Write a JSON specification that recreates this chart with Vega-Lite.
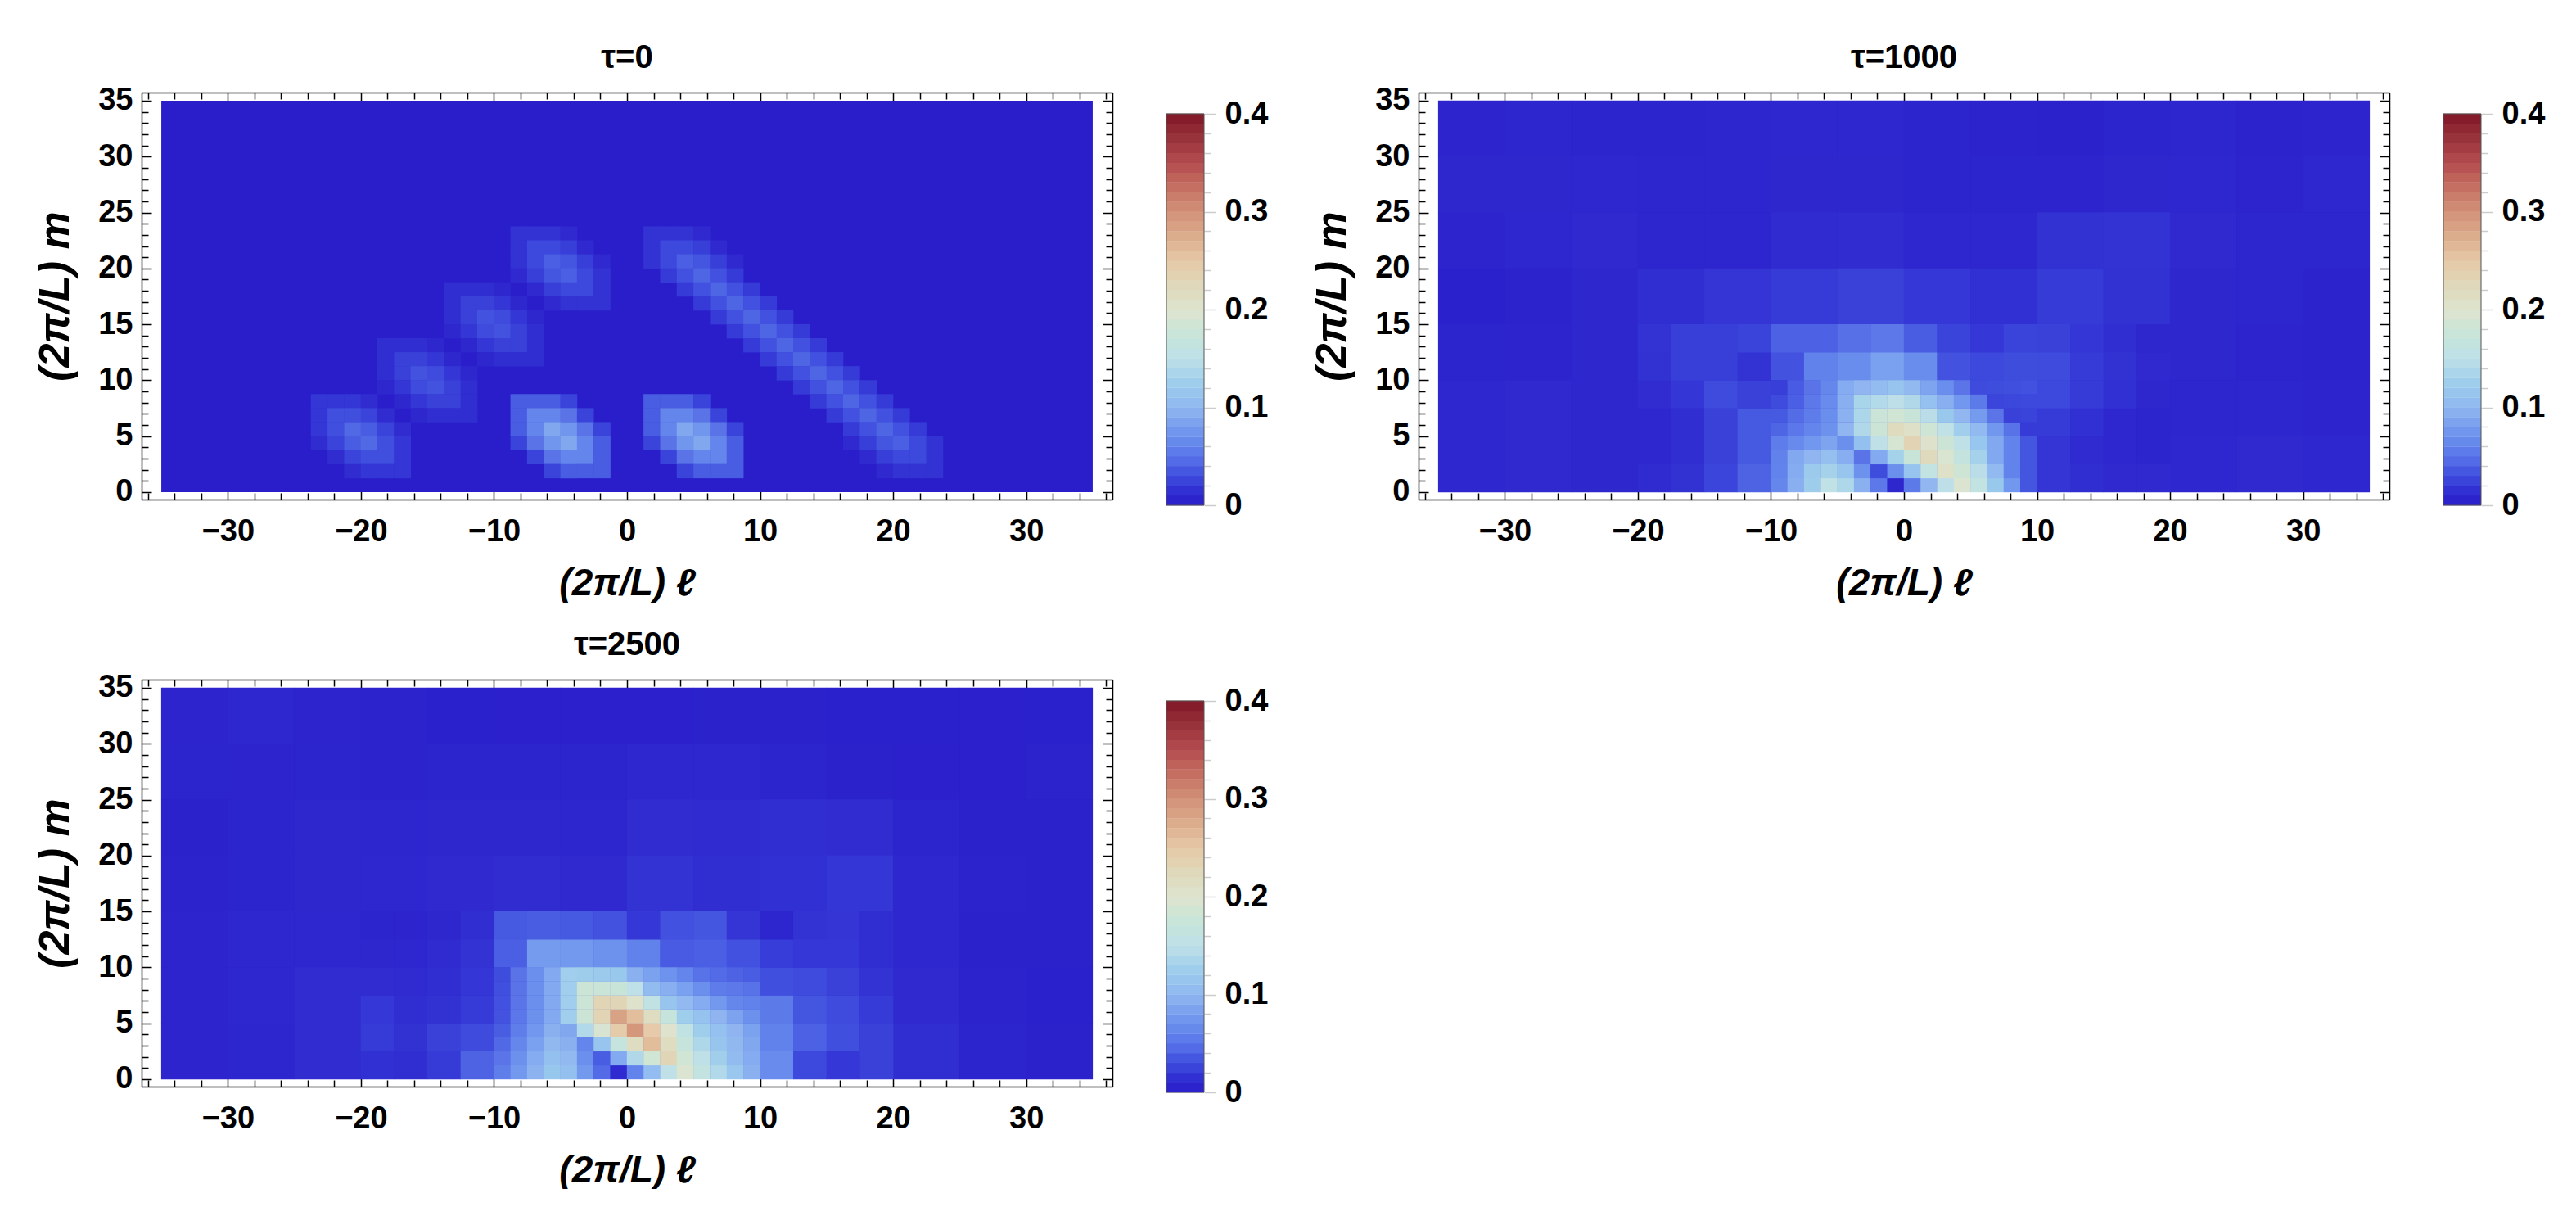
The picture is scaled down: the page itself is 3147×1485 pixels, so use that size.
{"$schema":"https://vega.github.io/schema/vega-lite/v6.json","padding":{"left":41,"top":50,"right":0,"bottom":0},"background":"white","bounds":"flush","columns":4,"spacing":{"column":66,"row":213},"config":{"view":{"stroke":null},"legend":{"disable":true},"axis":{"grid":false,"domainColor":"#000","domainWidth":1.5,"tickColor":"#000","tickWidth":1.5,"labelFont":"Liberation Sans","labelFontWeight":"bold","labelFontSize":38,"labelColor":"#000","titleFont":"Liberation Sans","titleFontWeight":"bold","titleFontStyle":"italic","titleColor":"#000","zindex":1,"labelOverlap":false,"labelFlush":false},"title":{"font":"Liberation Sans","fontWeight":"bold","fontSize":40,"color":"#000","offset":13}},
"datasets":{
"o":[{"l":0,"m":0}],
"base":[{"l":-35,"l2":35,"m":0,"m2":35,"v":0}],
"bar":[{"v":0.005},{"v":0.015},{"v":0.025},{"v":0.035},{"v":0.045},{"v":0.055},{"v":0.065},{"v":0.075},{"v":0.085},{"v":0.095},{"v":0.105},{"v":0.115},{"v":0.125},{"v":0.135},{"v":0.145},{"v":0.155},{"v":0.165},{"v":0.175},{"v":0.185},{"v":0.195},{"v":0.205},{"v":0.215},{"v":0.225},{"v":0.235},{"v":0.245},{"v":0.255},{"v":0.265},{"v":0.275},{"v":0.285},{"v":0.295},{"v":0.305},{"v":0.315},{"v":0.325},{"v":0.335},{"v":0.345},{"v":0.355},{"v":0.365},{"v":0.375},{"v":0.385},{"v":0.395}],
"box":[{"a":0,"b":0.4}],
"p1f":[
{"l":-23.125,"m":8.125,"v":0.019},{"l":-21.875,"m":8.125,"v":0.019},{"l":-20.625,"m":8.125,"v":0.019},{"l":-19.375,"m":8.125,"v":0.013},
{"l":-23.125,"m":6.875,"v":0.019},{"l":-21.875,"m":6.875,"v":0.031},{"l":-20.625,"m":6.875,"v":0.031},{"l":-19.375,"m":6.875,"v":0.025},{"l":-18.125,"m":6.875,"v":0.013},
{"l":-23.125,"m":5.625,"v":0.019},{"l":-21.875,"m":5.625,"v":0.031},{"l":-20.625,"m":5.625,"v":0.044},{"l":-19.375,"m":5.625,"v":0.038},{"l":-18.125,"m":5.625,"v":0.025},{"l":-16.875,"m":5.625,"v":0.013},
{"l":-23.125,"m":4.375,"v":0.013},{"l":-21.875,"m":4.375,"v":0.025},{"l":-20.625,"m":4.375,"v":0.038},{"l":-19.375,"m":4.375,"v":0.044},{"l":-18.125,"m":4.375,"v":0.031},{"l":-16.875,"m":4.375,"v":0.019},
{"l":-21.875,"m":3.125,"v":0.013},{"l":-20.625,"m":3.125,"v":0.025},{"l":-19.375,"m":3.125,"v":0.031},{"l":-18.125,"m":3.125,"v":0.031},{"l":-16.875,"m":3.125,"v":0.019},
{"l":-20.625,"m":1.875,"v":0.013},{"l":-19.375,"m":1.875,"v":0.019},{"l":-18.125,"m":1.875,"v":0.019},{"l":-16.875,"m":1.875,"v":0.019},
{"l":-18.125,"m":13.125,"v":0.014},{"l":-16.875,"m":13.125,"v":0.014},{"l":-15.625,"m":13.125,"v":0.014},{"l":-14.375,"m":13.125,"v":0.01},
{"l":-18.125,"m":11.875,"v":0.014},{"l":-16.875,"m":11.875,"v":0.024},{"l":-15.625,"m":11.875,"v":0.024},{"l":-14.375,"m":11.875,"v":0.019},{"l":-13.125,"m":11.875,"v":0.01},
{"l":-18.125,"m":10.625,"v":0.014},{"l":-16.875,"m":10.625,"v":0.024},{"l":-15.625,"m":10.625,"v":0.033},{"l":-14.375,"m":10.625,"v":0.029},{"l":-13.125,"m":10.625,"v":0.019},{"l":-11.875,"m":10.625,"v":0.01},
{"l":-18.125,"m":9.375,"v":0.01},{"l":-16.875,"m":9.375,"v":0.019},{"l":-15.625,"m":9.375,"v":0.029},{"l":-14.375,"m":9.375,"v":0.033},{"l":-13.125,"m":9.375,"v":0.024},{"l":-11.875,"m":9.375,"v":0.014},
{"l":-16.875,"m":8.125,"v":0.01},{"l":-15.625,"m":8.125,"v":0.019},{"l":-14.375,"m":8.125,"v":0.024},{"l":-13.125,"m":8.125,"v":0.024},{"l":-11.875,"m":8.125,"v":0.014},
{"l":-15.625,"m":6.875,"v":0.01},{"l":-14.375,"m":6.875,"v":0.014},{"l":-13.125,"m":6.875,"v":0.014},{"l":-11.875,"m":6.875,"v":0.014},
{"l":-13.125,"m":18.125,"v":0.014},{"l":-11.875,"m":18.125,"v":0.014},{"l":-10.625,"m":18.125,"v":0.014},{"l":-9.375,"m":18.125,"v":0.01},
{"l":-13.125,"m":16.875,"v":0.014},{"l":-11.875,"m":16.875,"v":0.024},{"l":-10.625,"m":16.875,"v":0.024},{"l":-9.375,"m":16.875,"v":0.019},{"l":-8.125,"m":16.875,"v":0.01},
{"l":-13.125,"m":15.625,"v":0.014},{"l":-11.875,"m":15.625,"v":0.024},{"l":-10.625,"m":15.625,"v":0.033},{"l":-9.375,"m":15.625,"v":0.029},{"l":-8.125,"m":15.625,"v":0.019},{"l":-6.875,"m":15.625,"v":0.01},
{"l":-13.125,"m":14.375,"v":0.01},{"l":-11.875,"m":14.375,"v":0.019},{"l":-10.625,"m":14.375,"v":0.029},{"l":-9.375,"m":14.375,"v":0.033},{"l":-8.125,"m":14.375,"v":0.024},{"l":-6.875,"m":14.375,"v":0.014},
{"l":-11.875,"m":13.125,"v":0.01},{"l":-10.625,"m":13.125,"v":0.019},{"l":-9.375,"m":13.125,"v":0.024},{"l":-8.125,"m":13.125,"v":0.024},{"l":-6.875,"m":13.125,"v":0.014},
{"l":-10.625,"m":11.875,"v":0.01},{"l":-9.375,"m":11.875,"v":0.014},{"l":-8.125,"m":11.875,"v":0.014},{"l":-6.875,"m":11.875,"v":0.014},
{"l":-8.125,"m":23.125,"v":0.017},{"l":-6.875,"m":23.125,"v":0.017},{"l":-5.625,"m":23.125,"v":0.017},{"l":-4.375,"m":23.125,"v":0.011},
{"l":-8.125,"m":21.875,"v":0.017},{"l":-6.875,"m":21.875,"v":0.028},{"l":-5.625,"m":21.875,"v":0.028},{"l":-4.375,"m":21.875,"v":0.023},{"l":-3.125,"m":21.875,"v":0.011},
{"l":-8.125,"m":20.625,"v":0.017},{"l":-6.875,"m":20.625,"v":0.028},{"l":-5.625,"m":20.625,"v":0.039},{"l":-4.375,"m":20.625,"v":0.034},{"l":-3.125,"m":20.625,"v":0.023},{"l":-1.875,"m":20.625,"v":0.011},
{"l":-8.125,"m":19.375,"v":0.011},{"l":-6.875,"m":19.375,"v":0.023},{"l":-5.625,"m":19.375,"v":0.034},{"l":-4.375,"m":19.375,"v":0.039},{"l":-3.125,"m":19.375,"v":0.028},{"l":-1.875,"m":19.375,"v":0.017},
{"l":-6.875,"m":18.125,"v":0.011},{"l":-5.625,"m":18.125,"v":0.023},{"l":-4.375,"m":18.125,"v":0.028},{"l":-3.125,"m":18.125,"v":0.028},{"l":-1.875,"m":18.125,"v":0.017},
{"l":-5.625,"m":16.875,"v":0.011},{"l":-4.375,"m":16.875,"v":0.017},{"l":-3.125,"m":16.875,"v":0.017},{"l":-1.875,"m":16.875,"v":0.017},
{"l":-8.125,"m":8.125,"v":0.038},{"l":-6.875,"m":8.125,"v":0.038},{"l":-5.625,"m":8.125,"v":0.038},{"l":-4.375,"m":8.125,"v":0.025},
{"l":-8.125,"m":6.875,"v":0.038},{"l":-6.875,"m":6.875,"v":0.063},{"l":-5.625,"m":6.875,"v":0.063},{"l":-4.375,"m":6.875,"v":0.05},{"l":-3.125,"m":6.875,"v":0.025},
{"l":-8.125,"m":5.625,"v":0.038},{"l":-6.875,"m":5.625,"v":0.063},{"l":-5.625,"m":5.625,"v":0.088},{"l":-4.375,"m":5.625,"v":0.075},{"l":-3.125,"m":5.625,"v":0.05},{"l":-1.875,"m":5.625,"v":0.025},
{"l":-8.125,"m":4.375,"v":0.025},{"l":-6.875,"m":4.375,"v":0.05},{"l":-5.625,"m":4.375,"v":0.075},{"l":-4.375,"m":4.375,"v":0.088},{"l":-3.125,"m":4.375,"v":0.063},{"l":-1.875,"m":4.375,"v":0.038},
{"l":-6.875,"m":3.125,"v":0.025},{"l":-5.625,"m":3.125,"v":0.05},{"l":-4.375,"m":3.125,"v":0.063},{"l":-3.125,"m":3.125,"v":0.063},{"l":-1.875,"m":3.125,"v":0.038},
{"l":-5.625,"m":1.875,"v":0.025},{"l":-4.375,"m":1.875,"v":0.038},{"l":-3.125,"m":1.875,"v":0.038},{"l":-1.875,"m":1.875,"v":0.038},
{"l":1.875,"m":8.125,"v":0.038},{"l":3.125,"m":8.125,"v":0.038},{"l":4.375,"m":8.125,"v":0.038},{"l":5.625,"m":8.125,"v":0.025},
{"l":1.875,"m":6.875,"v":0.038},{"l":3.125,"m":6.875,"v":0.063},{"l":4.375,"m":6.875,"v":0.063},{"l":5.625,"m":6.875,"v":0.05},{"l":6.875,"m":6.875,"v":0.025},
{"l":1.875,"m":5.625,"v":0.038},{"l":3.125,"m":5.625,"v":0.063},{"l":4.375,"m":5.625,"v":0.088},{"l":5.625,"m":5.625,"v":0.075},{"l":6.875,"m":5.625,"v":0.05},{"l":8.125,"m":5.625,"v":0.025},
{"l":1.875,"m":4.375,"v":0.025},{"l":3.125,"m":4.375,"v":0.05},{"l":4.375,"m":4.375,"v":0.075},{"l":5.625,"m":4.375,"v":0.088},{"l":6.875,"m":4.375,"v":0.063},{"l":8.125,"m":4.375,"v":0.038},
{"l":3.125,"m":3.125,"v":0.025},{"l":4.375,"m":3.125,"v":0.05},{"l":5.625,"m":3.125,"v":0.063},{"l":6.875,"m":3.125,"v":0.063},{"l":8.125,"m":3.125,"v":0.038},
{"l":4.375,"m":1.875,"v":0.025},{"l":5.625,"m":1.875,"v":0.038},{"l":6.875,"m":1.875,"v":0.038},{"l":8.125,"m":1.875,"v":0.038},
{"l":1.875,"m":23.125,"v":0.017},{"l":3.125,"m":23.125,"v":0.017},{"l":4.375,"m":23.125,"v":0.017},{"l":5.625,"m":23.125,"v":0.011},
{"l":1.875,"m":21.875,"v":0.017},{"l":3.125,"m":21.875,"v":0.028},{"l":4.375,"m":21.875,"v":0.028},{"l":5.625,"m":21.875,"v":0.023},{"l":6.875,"m":21.875,"v":0.011},
{"l":1.875,"m":20.625,"v":0.017},{"l":3.125,"m":20.625,"v":0.028},{"l":4.375,"m":20.625,"v":0.039},{"l":5.625,"m":20.625,"v":0.034},{"l":6.875,"m":20.625,"v":0.023},{"l":8.125,"m":20.625,"v":0.011},
{"l":3.125,"m":19.375,"v":0.021},{"l":4.375,"m":19.375,"v":0.032},{"l":5.625,"m":19.375,"v":0.042},{"l":6.875,"m":19.375,"v":0.032},{"l":8.125,"m":19.375,"v":0.021},
{"l":4.375,"m":18.125,"v":0.021},{"l":5.625,"m":18.125,"v":0.032},{"l":6.875,"m":18.125,"v":0.042},{"l":8.125,"m":18.125,"v":0.032},{"l":9.375,"m":18.125,"v":0.021},
{"l":5.625,"m":16.875,"v":0.021},{"l":6.875,"m":16.875,"v":0.032},{"l":8.125,"m":16.875,"v":0.042},{"l":9.375,"m":16.875,"v":0.032},{"l":10.625,"m":16.875,"v":0.021},
{"l":6.875,"m":15.625,"v":0.021},{"l":8.125,"m":15.625,"v":0.032},{"l":9.375,"m":15.625,"v":0.042},{"l":10.625,"m":15.625,"v":0.032},{"l":11.875,"m":15.625,"v":0.021},
{"l":8.125,"m":14.375,"v":0.021},{"l":9.375,"m":14.375,"v":0.032},{"l":10.625,"m":14.375,"v":0.042},{"l":11.875,"m":14.375,"v":0.032},{"l":13.125,"m":14.375,"v":0.021},
{"l":9.375,"m":13.125,"v":0.021},{"l":10.625,"m":13.125,"v":0.032},{"l":11.875,"m":13.125,"v":0.042},{"l":13.125,"m":13.125,"v":0.032},{"l":14.375,"m":13.125,"v":0.021},
{"l":10.625,"m":11.875,"v":0.021},{"l":11.875,"m":11.875,"v":0.032},{"l":13.125,"m":11.875,"v":0.042},{"l":14.375,"m":11.875,"v":0.032},{"l":15.625,"m":11.875,"v":0.021},
{"l":11.875,"m":10.625,"v":0.021},{"l":13.125,"m":10.625,"v":0.032},{"l":14.375,"m":10.625,"v":0.042},{"l":15.625,"m":10.625,"v":0.032},{"l":16.875,"m":10.625,"v":0.021},
{"l":13.125,"m":9.375,"v":0.021},{"l":14.375,"m":9.375,"v":0.032},{"l":15.625,"m":9.375,"v":0.042},{"l":16.875,"m":9.375,"v":0.032},{"l":18.125,"m":9.375,"v":0.021},
{"l":14.375,"m":8.125,"v":0.021},{"l":15.625,"m":8.125,"v":0.032},{"l":16.875,"m":8.125,"v":0.042},{"l":18.125,"m":8.125,"v":0.032},{"l":19.375,"m":8.125,"v":0.021},
{"l":15.625,"m":6.875,"v":0.021},{"l":16.875,"m":6.875,"v":0.032},{"l":18.125,"m":6.875,"v":0.042},{"l":19.375,"m":6.875,"v":0.032},{"l":20.625,"m":6.875,"v":0.021},
{"l":16.875,"m":5.625,"v":0.021},{"l":18.125,"m":5.625,"v":0.032},{"l":19.375,"m":5.625,"v":0.042},{"l":20.625,"m":5.625,"v":0.032},{"l":21.875,"m":5.625,"v":0.021},
{"l":16.875,"m":4.375,"v":0.011},{"l":18.125,"m":4.375,"v":0.023},{"l":19.375,"m":4.375,"v":0.034},{"l":20.625,"m":4.375,"v":0.039},{"l":21.875,"m":4.375,"v":0.028},{"l":23.125,"m":4.375,"v":0.017},
{"l":18.125,"m":3.125,"v":0.011},{"l":19.375,"m":3.125,"v":0.023},{"l":20.625,"m":3.125,"v":0.028},{"l":21.875,"m":3.125,"v":0.028},{"l":23.125,"m":3.125,"v":0.017},
{"l":19.375,"m":1.875,"v":0.011},{"l":20.625,"m":1.875,"v":0.017},{"l":21.875,"m":1.875,"v":0.017},{"l":23.125,"m":1.875,"v":0.017}
],
"p2c":[
{"l":-32.5,"m":32.5,"v":0.007},{"l":-27.5,"m":32.5,"v":0.008},{"l":-22.5,"m":32.5,"v":0.006},{"l":-17.5,"m":32.5,"v":0.006},{"l":-12.5,"m":32.5,"v":0.008},{"l":-7.5,"m":32.5,"v":0.009},{"l":-2.5,"m":32.5,"v":0.009},{"l":2.5,"m":32.5,"v":0.006},{"l":7.5,"m":32.5,"v":0.005},{"l":12.5,"m":32.5,"v":0.004},{"l":17.5,"m":32.5,"v":0.006},{"l":22.5,"m":32.5,"v":0.008},{"l":27.5,"m":32.5,"v":0.005},{"l":32.5,"m":32.5,"v":0.007},
{"l":-32.5,"m":27.5,"v":0.01},{"l":-27.5,"m":27.5,"v":0.01},{"l":-22.5,"m":27.5,"v":0.009},{"l":-17.5,"m":27.5,"v":0.008},{"l":-12.5,"m":27.5,"v":0.008},{"l":-7.5,"m":27.5,"v":0.01},{"l":-2.5,"m":27.5,"v":0.01},{"l":2.5,"m":27.5,"v":0.006},{"l":7.5,"m":27.5,"v":0.006},{"l":12.5,"m":27.5,"v":0.007},{"l":17.5,"m":27.5,"v":0.01},{"l":22.5,"m":27.5,"v":0.009},{"l":27.5,"m":27.5,"v":0.007},{"l":32.5,"m":27.5,"v":0.009},
{"l":-32.5,"m":22.5,"v":0.007},{"l":-27.5,"m":22.5,"v":0.009},{"l":-22.5,"m":22.5,"v":0.011},{"l":-17.5,"m":22.5,"v":0.008},{"l":-12.5,"m":22.5,"v":0.008},{"l":-7.5,"m":22.5,"v":0.012},{"l":-2.5,"m":22.5,"v":0.013},{"l":2.5,"m":22.5,"v":0.009},{"l":7.5,"m":22.5,"v":0.009},{"l":12.5,"m":22.5,"v":0.016},{"l":17.5,"m":22.5,"v":0.017},{"l":22.5,"m":22.5,"v":0.011},{"l":27.5,"m":22.5,"v":0.008},{"l":32.5,"m":22.5,"v":0.008},
{"l":-32.5,"m":17.5,"v":0.003},{"l":-27.5,"m":17.5,"v":0.005},{"l":-22.5,"m":17.5,"v":0.01},{"l":-17.5,"m":17.5,"v":0.014},{"l":-12.5,"m":17.5,"v":0.018},{"l":-7.5,"m":17.5,"v":0.021},{"l":-2.5,"m":17.5,"v":0.024},{"l":2.5,"m":17.5,"v":0.02},{"l":7.5,"m":17.5,"v":0.015},{"l":12.5,"m":17.5,"v":0.021},{"l":17.5,"m":17.5,"v":0.016},{"l":22.5,"m":17.5,"v":0.01},{"l":27.5,"m":17.5,"v":0.008},{"l":32.5,"m":17.5,"v":0.005},
{"l":-32.5,"m":12.5,"v":0.006},{"l":-27.5,"m":12.5,"v":0.007},{"l":-22.5,"m":12.5,"v":0.01},{"l":22.5,"m":12.5,"v":0.01},{"l":27.5,"m":12.5,"v":0.007},{"l":32.5,"m":12.5,"v":0.005},
{"l":-32.5,"m":7.5,"v":0.009},{"l":-27.5,"m":7.5,"v":0.011},{"l":-22.5,"m":7.5,"v":0.01},{"l":22.5,"m":7.5,"v":0.008},{"l":27.5,"m":7.5,"v":0.008},{"l":32.5,"m":7.5,"v":0.007},
{"l":-32.5,"m":2.5,"v":0.009},{"l":-27.5,"m":2.5,"v":0.011},{"l":-22.5,"m":2.5,"v":0.01},{"l":22.5,"m":2.5,"v":0.009},{"l":27.5,"m":2.5,"v":0.011},{"l":32.5,"m":2.5,"v":0.009}
],
"p2m":[
{"l":-18.75,"m":1.25,"v":0.012},{"l":-16.25,"m":1.25,"v":0.016},{"l":-18.75,"m":3.75,"v":0.009},{"l":-16.25,"m":3.75,"v":0.014},
{"l":-13.75,"m":1.25,"v":0.026},{"l":-11.25,"m":1.25,"v":0.041},{"l":-13.75,"m":3.75,"v":0.024},{"l":-11.25,"m":3.75,"v":0.036},
{"l":-18.75,"m":6.25,"v":0.009},{"l":-16.25,"m":6.25,"v":0.014},{"l":-18.75,"m":8.75,"v":0.013},{"l":-16.25,"m":8.75,"v":0.019},
{"l":-13.75,"m":6.25,"v":0.024},{"l":-11.25,"m":6.25,"v":0.036},{"l":-13.75,"m":8.75,"v":0.029},{"l":-11.25,"m":8.75,"v":0.024},
{"l":-18.75,"m":11.25,"v":0.016},{"l":-16.25,"m":11.25,"v":0.023},{"l":-18.75,"m":13.75,"v":0.017},{"l":-16.25,"m":13.75,"v":0.023},
{"l":-13.75,"m":11.25,"v":0.023},{"l":-11.25,"m":11.25,"v":0.017},{"l":-13.75,"m":13.75,"v":0.023},{"l":-11.25,"m":13.75,"v":0.025},
{"l":11.25,"m":1.25,"v":0.018},{"l":13.75,"m":1.25,"v":0.014},{"l":11.25,"m":3.75,"v":0.018},{"l":13.75,"m":3.75,"v":0.012},
{"l":16.25,"m":1.25,"v":0.011},{"l":18.75,"m":1.25,"v":0.011},{"l":16.25,"m":3.75,"v":0.009},{"l":18.75,"m":3.75,"v":0.006},
{"l":11.25,"m":6.25,"v":0.021},{"l":13.75,"m":6.25,"v":0.015},{"l":11.25,"m":8.75,"v":0.028},{"l":13.75,"m":8.75,"v":0.021},
{"l":16.25,"m":6.25,"v":0.009},{"l":18.75,"m":6.25,"v":0.006},{"l":16.25,"m":8.75,"v":0.015},{"l":18.75,"m":8.75,"v":0.01},
{"l":11.25,"m":11.25,"v":0.029},{"l":13.75,"m":11.25,"v":0.021},{"l":11.25,"m":13.75,"v":0.024},{"l":13.75,"m":13.75,"v":0.019},
{"l":16.25,"m":11.25,"v":0.016},{"l":18.75,"m":11.25,"v":0.011},{"l":16.25,"m":13.75,"v":0.014},{"l":18.75,"m":13.75,"v":0.01},
{"l":-8.75,"m":11.25,"v":0.033},{"l":-6.25,"m":11.25,"v":0.06},{"l":-8.75,"m":13.75,"v":0.04},{"l":-6.25,"m":13.75,"v":0.04},
{"l":-3.75,"m":11.25,"v":0.068},{"l":-1.25,"m":11.25,"v":0.083},{"l":-3.75,"m":13.75,"v":0.048},{"l":-1.25,"m":13.75,"v":0.053},
{"l":1.25,"m":11.25,"v":0.068},{"l":3.75,"m":11.25,"v":0.033},{"l":1.25,"m":13.75,"v":0.038},{"l":3.75,"m":13.75,"v":0.025},
{"l":6.25,"m":11.25,"v":0.028},{"l":8.75,"m":11.25,"v":0.03},{"l":6.25,"m":13.75,"v":0.02},{"l":8.75,"m":13.75,"v":0.025}
],
"p2f":[
{"l":-9.375,"m":0.625,"v":0.064},{"l":-8.125,"m":0.625,"v":0.094},{"l":-6.875,"m":0.625,"v":0.124},{"l":-5.625,"m":0.625,"v":0.154},
{"l":-9.375,"m":1.875,"v":0.061},{"l":-8.125,"m":1.875,"v":0.091},{"l":-6.875,"m":1.875,"v":0.121},{"l":-5.625,"m":1.875,"v":0.131},
{"l":-9.375,"m":3.125,"v":0.059},{"l":-8.125,"m":3.125,"v":0.089},{"l":-6.875,"m":3.125,"v":0.099},{"l":-5.625,"m":3.125,"v":0.109},
{"l":-9.375,"m":4.375,"v":0.056},{"l":-8.125,"m":4.375,"v":0.066},{"l":-6.875,"m":4.375,"v":0.076},{"l":-5.625,"m":4.375,"v":0.086},
{"l":-4.375,"m":0.625,"v":0.138},{"l":-3.125,"m":0.625,"v":0.095},{"l":-1.875,"m":0.625,"v":0.053},{"l":-0.625,"m":0.625,"v":0.01},
{"l":-4.375,"m":1.875,"v":0.115},{"l":-3.125,"m":1.875,"v":0.072},{"l":-1.875,"m":1.875,"v":0.03},{"l":-0.625,"m":1.875,"v":0.07},
{"l":-4.375,"m":3.125,"v":0.093},{"l":-3.125,"m":3.125,"v":0.05},{"l":-1.875,"m":3.125,"v":0.09},{"l":-0.625,"m":3.125,"v":0.13},
{"l":-4.375,"m":4.375,"v":0.07},{"l":-3.125,"m":4.375,"v":0.11},{"l":-1.875,"m":4.375,"v":0.15},{"l":-0.625,"m":4.375,"v":0.19},
{"l":0.625,"m":0.625,"v":0.054},{"l":1.875,"m":0.625,"v":0.101},{"l":3.125,"m":0.625,"v":0.149},{"l":4.375,"m":0.625,"v":0.196},
{"l":0.625,"m":1.875,"v":0.114},{"l":1.875,"m":1.875,"v":0.161},{"l":3.125,"m":1.875,"v":0.209},{"l":4.375,"m":1.875,"v":0.181},
{"l":0.625,"m":3.125,"v":0.174},{"l":1.875,"m":3.125,"v":0.221},{"l":3.125,"m":3.125,"v":0.194},{"l":4.375,"m":3.125,"v":0.166},
{"l":0.625,"m":4.375,"v":0.234},{"l":1.875,"m":4.375,"v":0.206},{"l":3.125,"m":4.375,"v":0.179},{"l":4.375,"m":4.375,"v":0.151},
{"l":5.625,"m":0.625,"v":0.161},{"l":6.875,"m":0.625,"v":0.119},{"l":8.125,"m":0.625,"v":0.076},{"l":9.375,"m":0.625,"v":0.034},
{"l":5.625,"m":1.875,"v":0.146},{"l":6.875,"m":1.875,"v":0.104},{"l":8.125,"m":1.875,"v":0.061},{"l":9.375,"m":1.875,"v":0.034},
{"l":5.625,"m":3.125,"v":0.131},{"l":6.875,"m":3.125,"v":0.089},{"l":8.125,"m":3.125,"v":0.061},{"l":9.375,"m":3.125,"v":0.034},
{"l":5.625,"m":4.375,"v":0.116},{"l":6.875,"m":4.375,"v":0.089},{"l":8.125,"m":4.375,"v":0.061},{"l":9.375,"m":4.375,"v":0.034},
{"l":-9.375,"m":5.625,"v":0.042},{"l":-8.125,"m":5.625,"v":0.052},{"l":-6.875,"m":5.625,"v":0.062},{"l":-5.625,"m":5.625,"v":0.072},
{"l":-9.375,"m":6.875,"v":0.036},{"l":-8.125,"m":6.875,"v":0.046},{"l":-6.875,"m":6.875,"v":0.056},{"l":-5.625,"m":6.875,"v":0.069},
{"l":-9.375,"m":8.125,"v":0.029},{"l":-8.125,"m":8.125,"v":0.039},{"l":-6.875,"m":8.125,"v":0.053},{"l":-5.625,"m":8.125,"v":0.067},
{"l":-9.375,"m":9.375,"v":0.023},{"l":-8.125,"m":9.375,"v":0.037},{"l":-6.875,"m":9.375,"v":0.05},{"l":-5.625,"m":9.375,"v":0.064},
{"l":-4.375,"m":5.625,"v":0.099},{"l":-3.125,"m":5.625,"v":0.139},{"l":-1.875,"m":5.625,"v":0.179},{"l":-0.625,"m":5.625,"v":0.219},
{"l":-4.375,"m":6.875,"v":0.096},{"l":-3.125,"m":6.875,"v":0.136},{"l":-1.875,"m":6.875,"v":0.176},{"l":-0.625,"m":6.875,"v":0.184},
{"l":-4.375,"m":8.125,"v":0.094},{"l":-3.125,"m":8.125,"v":0.134},{"l":-1.875,"m":8.125,"v":0.141},{"l":-0.625,"m":8.125,"v":0.149},
{"l":-4.375,"m":9.375,"v":0.091},{"l":-3.125,"m":9.375,"v":0.099},{"l":-1.875,"m":9.375,"v":0.106},{"l":-0.625,"m":9.375,"v":0.114},
{"l":0.625,"m":5.625,"v":0.209},{"l":1.875,"m":5.625,"v":0.181},{"l":3.125,"m":5.625,"v":0.154},{"l":4.375,"m":5.625,"v":0.126},
{"l":0.625,"m":6.875,"v":0.174},{"l":1.875,"m":6.875,"v":0.146},{"l":3.125,"m":6.875,"v":0.119},{"l":4.375,"m":6.875,"v":0.101},
{"l":0.625,"m":8.125,"v":0.139},{"l":1.875,"m":8.125,"v":0.111},{"l":3.125,"m":8.125,"v":0.094},{"l":4.375,"m":8.125,"v":0.076},
{"l":0.625,"m":9.375,"v":0.104},{"l":1.875,"m":9.375,"v":0.086},{"l":3.125,"m":9.375,"v":0.069},{"l":4.375,"m":9.375,"v":0.051},
{"l":5.625,"m":5.625,"v":0.104},{"l":6.875,"m":5.625,"v":0.076},{"l":8.125,"m":5.625,"v":0.049},{"l":9.375,"m":5.625,"v":0.021},
{"l":5.625,"m":6.875,"v":0.079},{"l":6.875,"m":6.875,"v":0.051},{"l":8.125,"m":6.875,"v":0.024},{"l":9.375,"m":6.875,"v":0.025},
{"l":5.625,"m":8.125,"v":0.054},{"l":6.875,"m":8.125,"v":0.026},{"l":8.125,"m":8.125,"v":0.027},{"l":9.375,"m":8.125,"v":0.028},
{"l":5.625,"m":9.375,"v":0.029},{"l":6.875,"m":9.375,"v":0.03},{"l":8.125,"m":9.375,"v":0.031},{"l":9.375,"m":9.375,"v":0.032}
],
"p3c":[
{"l":-32.5,"m":32.5,"v":0.007},{"l":-27.5,"m":32.5,"v":0.009},{"l":-22.5,"m":32.5,"v":0.007},{"l":-17.5,"m":32.5,"v":0.005},{"l":-12.5,"m":32.5,"v":0.003},{"l":-7.5,"m":32.5,"v":0.002},{"l":-2.5,"m":32.5,"v":0.002},{"l":2.5,"m":32.5,"v":0.002},{"l":7.5,"m":32.5,"v":0.004},{"l":12.5,"m":32.5,"v":0.004},{"l":17.5,"m":32.5,"v":0.003},{"l":22.5,"m":32.5,"v":0.003},{"l":27.5,"m":32.5,"v":0.002},{"l":32.5,"m":32.5,"v":0.003},
{"l":-32.5,"m":27.5,"v":0.006},{"l":-27.5,"m":27.5,"v":0.007},{"l":-22.5,"m":27.5,"v":0.006},{"l":-17.5,"m":27.5,"v":0.005},{"l":-12.5,"m":27.5,"v":0.006},{"l":-7.5,"m":27.5,"v":0.006},{"l":-2.5,"m":27.5,"v":0.006},{"l":2.5,"m":27.5,"v":0.009},{"l":7.5,"m":27.5,"v":0.009},{"l":12.5,"m":27.5,"v":0.006},{"l":17.5,"m":27.5,"v":0.004},{"l":22.5,"m":27.5,"v":0.002},{"l":27.5,"m":27.5,"v":0.002},{"l":32.5,"m":27.5,"v":0.005},
{"l":-32.5,"m":22.5,"v":0.004},{"l":-27.5,"m":22.5,"v":0.006},{"l":-22.5,"m":22.5,"v":0.01},{"l":-17.5,"m":22.5,"v":0.008},{"l":-12.5,"m":22.5,"v":0.01},{"l":-7.5,"m":22.5,"v":0.01},{"l":-2.5,"m":22.5,"v":0.008},{"l":2.5,"m":22.5,"v":0.013},{"l":7.5,"m":22.5,"v":0.012},{"l":12.5,"m":22.5,"v":0.014},{"l":17.5,"m":22.5,"v":0.013},{"l":22.5,"m":22.5,"v":0.006},{"l":27.5,"m":22.5,"v":0.004},{"l":32.5,"m":22.5,"v":0.004},
{"l":-32.5,"m":17.5,"v":0.005},{"l":-27.5,"m":17.5,"v":0.006},{"l":-22.5,"m":17.5,"v":0.01},{"l":-17.5,"m":17.5,"v":0.009},{"l":-12.5,"m":17.5,"v":0.011},{"l":-7.5,"m":17.5,"v":0.013},{"l":-2.5,"m":17.5,"v":0.011},{"l":2.5,"m":17.5,"v":0.017},{"l":7.5,"m":17.5,"v":0.014},{"l":12.5,"m":17.5,"v":0.015},{"l":17.5,"m":17.5,"v":0.019},{"l":22.5,"m":17.5,"v":0.009},{"l":27.5,"m":17.5,"v":0.005},{"l":32.5,"m":17.5,"v":0.004},
{"l":-32.5,"m":12.5,"v":0.007},{"l":-27.5,"m":12.5,"v":0.009},{"l":-22.5,"m":12.5,"v":0.009},{"l":22.5,"m":12.5,"v":0.009},{"l":27.5,"m":12.5,"v":0.004},{"l":32.5,"m":12.5,"v":0.004},
{"l":-32.5,"m":7.5,"v":0.007},{"l":-27.5,"m":7.5,"v":0.009},{"l":-22.5,"m":7.5,"v":0.013},{"l":22.5,"m":7.5,"v":0.011},{"l":27.5,"m":7.5,"v":0.005},{"l":32.5,"m":7.5,"v":0.003},
{"l":-32.5,"m":2.5,"v":0.007},{"l":-27.5,"m":2.5,"v":0.008},{"l":-22.5,"m":2.5,"v":0.013},{"l":22.5,"m":2.5,"v":0.014},{"l":27.5,"m":2.5,"v":0.006},{"l":32.5,"m":2.5,"v":0.004}
],
"p3m":[
{"l":-18.75,"m":1.25,"v":0.015},{"l":-16.25,"m":1.25,"v":0.014},{"l":-18.75,"m":3.75,"v":0.021},{"l":-16.25,"m":3.75,"v":0.016},
{"l":-13.75,"m":1.25,"v":0.021},{"l":-11.25,"m":1.25,"v":0.041},{"l":-13.75,"m":3.75,"v":0.024},{"l":-11.25,"m":3.75,"v":0.029},
{"l":-18.75,"m":6.25,"v":0.02},{"l":-16.25,"m":6.25,"v":0.014},{"l":-18.75,"m":8.75,"v":0.013},{"l":-16.25,"m":8.75,"v":0.012},
{"l":-13.75,"m":6.25,"v":0.016},{"l":-11.25,"m":6.25,"v":0.021},{"l":-13.75,"m":8.75,"v":0.014},{"l":-11.25,"m":8.75,"v":0.019},
{"l":-18.75,"m":11.25,"v":0.01},{"l":-16.25,"m":11.25,"v":0.009},{"l":-18.75,"m":13.75,"v":0.006},{"l":-16.25,"m":13.75,"v":0.007},
{"l":-13.75,"m":11.25,"v":0.012},{"l":-11.25,"m":11.25,"v":0.017},{"l":-13.75,"m":13.75,"v":0.01},{"l":-11.25,"m":13.75,"v":0.014},
{"l":11.25,"m":1.25,"v":0.067},{"l":13.75,"m":1.25,"v":0.028},{"l":11.25,"m":3.75,"v":0.059},{"l":13.75,"m":3.75,"v":0.04},
{"l":16.25,"m":1.25,"v":0.02},{"l":18.75,"m":1.25,"v":0.024},{"l":16.25,"m":3.75,"v":0.031},{"l":18.75,"m":3.75,"v":0.024},
{"l":11.25,"m":6.25,"v":0.054},{"l":13.75,"m":6.25,"v":0.034},{"l":11.25,"m":8.75,"v":0.031},{"l":13.75,"m":8.75,"v":0.029},
{"l":16.25,"m":6.25,"v":0.029},{"l":18.75,"m":6.25,"v":0.021},{"l":16.25,"m":8.75,"v":0.024},{"l":18.75,"m":8.75,"v":0.017},
{"l":11.25,"m":11.25,"v":0.022},{"l":13.75,"m":11.25,"v":0.02},{"l":11.25,"m":13.75,"v":0.008},{"l":13.75,"m":13.75,"v":0.017},
{"l":16.25,"m":11.25,"v":0.02},{"l":18.75,"m":11.25,"v":0.014},{"l":16.25,"m":13.75,"v":0.018},{"l":18.75,"m":13.75,"v":0.014},
{"l":-8.75,"m":11.25,"v":0.039},{"l":-6.25,"m":11.25,"v":0.079},{"l":-8.75,"m":13.75,"v":0.036},{"l":-6.25,"m":13.75,"v":0.038},
{"l":-3.75,"m":11.25,"v":0.077},{"l":-1.25,"m":11.25,"v":0.072},{"l":-3.75,"m":13.75,"v":0.036},{"l":-1.25,"m":13.75,"v":0.033},
{"l":1.25,"m":11.25,"v":0.059},{"l":3.75,"m":11.25,"v":0.037},{"l":1.25,"m":13.75,"v":0.02},{"l":3.75,"m":13.75,"v":0.032},
{"l":6.25,"m":11.25,"v":0.039},{"l":8.75,"m":11.25,"v":0.032},{"l":6.25,"m":13.75,"v":0.034},{"l":8.75,"m":13.75,"v":0.018}
],
"p3f":[
{"l":-9.375,"m":0.625,"v":0.057},{"l":-8.125,"m":0.625,"v":0.077},{"l":-6.875,"m":0.625,"v":0.097},{"l":-5.625,"m":0.625,"v":0.117},
{"l":-9.375,"m":1.875,"v":0.051},{"l":-8.125,"m":1.875,"v":0.071},{"l":-6.875,"m":1.875,"v":0.091},{"l":-5.625,"m":1.875,"v":0.11},
{"l":-9.375,"m":3.125,"v":0.044},{"l":-8.125,"m":3.125,"v":0.064},{"l":-6.875,"m":3.125,"v":0.083},{"l":-5.625,"m":3.125,"v":0.102},
{"l":-9.375,"m":4.375,"v":0.038},{"l":-8.125,"m":4.375,"v":0.057},{"l":-6.875,"m":4.375,"v":0.076},{"l":-5.625,"m":4.375,"v":0.095},
{"l":-4.375,"m":0.625,"v":0.11},{"l":-3.125,"m":0.625,"v":0.077},{"l":-1.875,"m":0.625,"v":0.045},{"l":-0.625,"m":0.625,"v":0.012},
{"l":-4.375,"m":1.875,"v":0.103},{"l":-3.125,"m":1.875,"v":0.07},{"l":-1.875,"m":1.875,"v":0.038},{"l":-0.625,"m":1.875,"v":0.09},
{"l":-4.375,"m":3.125,"v":0.095},{"l":-3.125,"m":3.125,"v":0.062},{"l":-1.875,"m":3.125,"v":0.115},{"l":-0.625,"m":3.125,"v":0.168},
{"l":-4.375,"m":4.375,"v":0.088},{"l":-3.125,"m":4.375,"v":0.14},{"l":-1.875,"m":4.375,"v":0.192},{"l":-0.625,"m":4.375,"v":0.245},
{"l":0.625,"m":0.625,"v":0.061},{"l":1.875,"m":0.625,"v":0.106},{"l":3.125,"m":0.625,"v":0.151},{"l":4.375,"m":0.625,"v":0.196},
{"l":0.625,"m":1.875,"v":0.139},{"l":1.875,"m":1.875,"v":0.184},{"l":3.125,"m":1.875,"v":0.229},{"l":4.375,"m":1.875,"v":0.184},
{"l":0.625,"m":3.125,"v":0.216},{"l":1.875,"m":3.125,"v":0.261},{"l":3.125,"m":3.125,"v":0.216},{"l":4.375,"m":3.125,"v":0.171},
{"l":0.625,"m":4.375,"v":0.294},{"l":1.875,"m":4.375,"v":0.249},{"l":3.125,"m":4.375,"v":0.204},{"l":4.375,"m":4.375,"v":0.159},
{"l":5.625,"m":0.625,"v":0.163},{"l":6.875,"m":0.625,"v":0.14},{"l":8.125,"m":0.625,"v":0.118},{"l":9.375,"m":0.625,"v":0.095},
{"l":5.625,"m":1.875,"v":0.15},{"l":6.875,"m":1.875,"v":0.127},{"l":8.125,"m":1.875,"v":0.105},{"l":9.375,"m":1.875,"v":0.091},
{"l":5.625,"m":3.125,"v":0.138},{"l":6.875,"m":3.125,"v":0.115},{"l":8.125,"m":3.125,"v":0.102},{"l":9.375,"m":3.125,"v":0.088},
{"l":5.625,"m":4.375,"v":0.125},{"l":6.875,"m":4.375,"v":0.111},{"l":8.125,"m":4.375,"v":0.098},{"l":9.375,"m":4.375,"v":0.084},
{"l":-9.375,"m":5.625,"v":0.033},{"l":-8.125,"m":5.625,"v":0.052},{"l":-6.875,"m":5.625,"v":0.071},{"l":-5.625,"m":5.625,"v":0.09},
{"l":-9.375,"m":6.875,"v":0.032},{"l":-8.125,"m":6.875,"v":0.051},{"l":-6.875,"m":6.875,"v":0.07},{"l":-5.625,"m":6.875,"v":0.09},
{"l":-9.375,"m":8.125,"v":0.031},{"l":-8.125,"m":8.125,"v":0.05},{"l":-6.875,"m":8.125,"v":0.07},{"l":-5.625,"m":8.125,"v":0.09},
{"l":-9.375,"m":9.375,"v":0.03},{"l":-8.125,"m":9.375,"v":0.05},{"l":-6.875,"m":9.375,"v":0.07},{"l":-5.625,"m":9.375,"v":0.09},
{"l":-4.375,"m":5.625,"v":0.126},{"l":-3.125,"m":5.625,"v":0.179},{"l":-1.875,"m":5.625,"v":0.231},{"l":-0.625,"m":5.625,"v":0.284},
{"l":-4.375,"m":6.875,"v":0.126},{"l":-3.125,"m":6.875,"v":0.179},{"l":-1.875,"m":6.875,"v":0.231},{"l":-0.625,"m":6.875,"v":0.229},
{"l":-4.375,"m":8.125,"v":0.126},{"l":-3.125,"m":8.125,"v":0.179},{"l":-1.875,"m":8.125,"v":0.176},{"l":-0.625,"m":8.125,"v":0.174},
{"l":-4.375,"m":9.375,"v":0.126},{"l":-3.125,"m":9.375,"v":0.124},{"l":-1.875,"m":9.375,"v":0.121},{"l":-0.625,"m":9.375,"v":0.119},
{"l":0.625,"m":5.625,"v":0.26},{"l":1.875,"m":5.625,"v":0.215},{"l":3.125,"m":5.625,"v":0.17},{"l":4.375,"m":5.625,"v":0.125},
{"l":0.625,"m":6.875,"v":0.205},{"l":1.875,"m":6.875,"v":0.16},{"l":3.125,"m":6.875,"v":0.115},{"l":4.375,"m":6.875,"v":0.104},
{"l":0.625,"m":8.125,"v":0.15},{"l":1.875,"m":8.125,"v":0.105},{"l":3.125,"m":8.125,"v":0.094},{"l":4.375,"m":8.125,"v":0.083},
{"l":0.625,"m":9.375,"v":0.095},{"l":1.875,"m":9.375,"v":0.084},{"l":3.125,"m":9.375,"v":0.073},{"l":4.375,"m":9.375,"v":0.062},
{"l":5.625,"m":5.625,"v":0.112},{"l":6.875,"m":5.625,"v":0.098},{"l":8.125,"m":5.625,"v":0.085},{"l":9.375,"m":5.625,"v":0.071},
{"l":5.625,"m":6.875,"v":0.091},{"l":6.875,"m":6.875,"v":0.077},{"l":8.125,"m":6.875,"v":0.064},{"l":9.375,"m":6.875,"v":0.06},
{"l":5.625,"m":8.125,"v":0.07},{"l":6.875,"m":8.125,"v":0.056},{"l":8.125,"m":8.125,"v":0.053},{"l":9.375,"m":8.125,"v":0.049},
{"l":5.625,"m":9.375,"v":0.049},{"l":6.875,"m":9.375,"v":0.045},{"l":8.125,"m":9.375,"v":0.041},{"l":9.375,"m":9.375,"v":0.038}
]
},
"concat":[
{"title":"τ=0","width":1186,"height":497,"resolve":{"axis":{"x":"independent","y":"independent"}},"layer":[
{"data":{"name":"base"},"mark":"rect","encoding":{"x":{"field":"l","type":"quantitative","scale":{"domain":[-36.48,36.48],"nice":false},"axis":{"orient":"bottom","values":[-30,-20,-10,0,10,20,30],"format":"d","tickSize":-12,"labelPadding":32,"title":"(2π/L) ℓ","titleFontSize":46,"titlePadding":22}},"x2":{"field":"l2"},"y":{"field":"m","type":"quantitative","scale":{"domain":[-0.66,35.73],"nice":false},"axis":{"orient":"left","values":[0,5,10,15,20,25,30,35],"format":"d","tickSize":-12,"labelPadding":23,"title":"(2π/L) m","titleFontSize":52,"titlePadding":25}},"y2":{"field":"m2"},"color":{"field":"v","type":"quantitative","scale":{"domain":[0,0.01,0.02,0.05,0.1,0.15,0.2,0.25,0.3,0.35,0.4],"range":["#2a1ecb","#2e27ce","#3538d6","#5a74e8","#92b6f0","#c0e0e8","#dfe4d0","#e6c9a8","#d29078","#b44d50","#7f1528"]}}}},
{"data":{"name":"p1f"},"mark":{"type":"rect","width":20.7,"height":17.5},"encoding":{"x":{"field":"l","type":"quantitative","axis":null},"y":{"field":"m","type":"quantitative","axis":null},"color":{"field":"v","type":"quantitative"}}},
{"data":{"name":"o"},"mark":{"type":"point","opacity":0},"encoding":{"x":{"field":"l","type":"quantitative","axis":{"orient":"top","values":[-30,-20,-10,0,10,20,30],"labels":false,"tickSize":-12,"title":null}},"y":{"field":"m","type":"quantitative","axis":{"orient":"right","values":[0,5,10,15,20,25,30,35],"labels":false,"tickSize":-12,"title":null}}}},
{"data":{"name":"o"},"mark":{"type":"point","opacity":0},"encoding":{"x":{"field":"l","type":"quantitative","axis":{"orient":"bottom","values":[-36,-34,-32,-28,-26,-24,-22,-18,-16,-14,-12,-8,-6,-4,-2,2,4,6,8,12,14,16,18,22,24,26,28,32,34,36],"labels":false,"tickSize":-8,"domain":false,"title":null}},"y":{"field":"m","type":"quantitative","axis":{"orient":"left","values":[1,2,3,4,6,7,8,9,11,12,13,14,16,17,18,19,21,22,23,24,26,27,28,29,31,32,33,34],"labels":false,"tickSize":-8,"domain":false,"title":null}}}},
{"data":{"name":"o"},"mark":{"type":"point","opacity":0},"encoding":{"x":{"field":"l","type":"quantitative","axis":{"orient":"top","values":[-36,-34,-32,-28,-26,-24,-22,-18,-16,-14,-12,-8,-6,-4,-2,2,4,6,8,12,14,16,18,22,24,26,28,32,34,36],"labels":false,"tickSize":-8,"domain":false,"title":null}},"y":{"field":"m","type":"quantitative","axis":{"orient":"right","values":[1,2,3,4,6,7,8,9,11,12,13,14,16,17,18,19,21,22,23,24,26,27,28,29,31,32,33,34],"labels":false,"tickSize":-8,"domain":false,"title":null}}}}
]},
{"width":242,"height":504,"resolve":{"axis":{"y":"independent"}},"layer":[
{"data":{"name":"bar"},"mark":{"type":"rect","width":46,"height":12.3},"encoding":{"x":{"datum":23,"type":"quantitative","scale":{"domain":[0,242],"nice":false},"axis":null},"y":{"field":"v","type":"quantitative","scale":{"domain":[0,0.42176],"nice":false},"axis":{"orient":"right","offset":-196,"values":[0,0.1,0.2,0.3,0.4],"format":"~g","tickColor":"#ccc","tickSize":14,"domain":false,"labelPadding":11,"title":null}},"color":{"field":"v","type":"quantitative","scale":{"domain":[0,0.01,0.02,0.05,0.1,0.15,0.2,0.25,0.3,0.35,0.4],"range":["#2a1ecb","#2e27ce","#3538d6","#5a74e8","#92b6f0","#c0e0e8","#dfe4d0","#e6c9a8","#d29078","#b44d50","#7f1528"]}}}},
{"data":{"name":"box"},"mark":{"type":"rect","width":46,"fill":null,"stroke":"#555","strokeWidth":1},"encoding":{"x":{"datum":23,"type":"quantitative","axis":null},"y":{"field":"a","type":"quantitative","axis":{"orient":"right","offset":-196,"values":[0.02,0.04,0.06,0.08,0.12,0.14,0.16,0.18,0.22,0.24,0.26,0.28,0.32,0.34,0.36,0.38],"labels":false,"tickColor":"#ccc","tickSize":8,"domain":false,"title":null}},"y2":{"field":"b"}}}
]},
{"title":"τ=1000","width":1186,"height":497,"resolve":{"axis":{"x":"independent","y":"independent"}},"layer":[
{"data":{"name":"base"},"mark":"rect","encoding":{"x":{"field":"l","type":"quantitative","scale":{"domain":[-36.48,36.48],"nice":false},"axis":{"orient":"bottom","values":[-30,-20,-10,0,10,20,30],"format":"d","tickSize":-12,"labelPadding":32,"title":"(2π/L) ℓ","titleFontSize":46,"titlePadding":22}},"x2":{"field":"l2"},"y":{"field":"m","type":"quantitative","scale":{"domain":[-0.66,35.73],"nice":false},"axis":{"orient":"left","values":[0,5,10,15,20,25,30,35],"format":"d","tickSize":-12,"labelPadding":23,"title":"(2π/L) m","titleFontSize":52,"titlePadding":25}},"y2":{"field":"m2"},"color":{"field":"v","type":"quantitative","scale":{"domain":[0,0.01,0.02,0.05,0.1,0.15,0.2,0.25,0.3,0.35,0.4],"range":["#2a1ecb","#2e27ce","#3538d6","#5a74e8","#92b6f0","#c0e0e8","#dfe4d0","#e6c9a8","#d29078","#b44d50","#7f1528"]}}}},
{"data":{"name":"p2c"},"mark":{"type":"rect","width":81.6,"height":68.7},"encoding":{"x":{"field":"l","type":"quantitative","axis":null},"y":{"field":"m","type":"quantitative","axis":null},"color":{"field":"v","type":"quantitative"}}},
{"data":{"name":"p2m"},"mark":{"type":"rect","width":41,"height":34.6},"encoding":{"x":{"field":"l","type":"quantitative","axis":null},"y":{"field":"m","type":"quantitative","axis":null},"color":{"field":"v","type":"quantitative"}}},
{"data":{"name":"p2f"},"mark":{"type":"rect","width":20.7,"height":17.5},"encoding":{"x":{"field":"l","type":"quantitative","axis":null},"y":{"field":"m","type":"quantitative","axis":null},"color":{"field":"v","type":"quantitative"}}},
{"data":{"name":"o"},"mark":{"type":"point","opacity":0},"encoding":{"x":{"field":"l","type":"quantitative","axis":{"orient":"top","values":[-30,-20,-10,0,10,20,30],"labels":false,"tickSize":-12,"title":null}},"y":{"field":"m","type":"quantitative","axis":{"orient":"right","values":[0,5,10,15,20,25,30,35],"labels":false,"tickSize":-12,"title":null}}}},
{"data":{"name":"o"},"mark":{"type":"point","opacity":0},"encoding":{"x":{"field":"l","type":"quantitative","axis":{"orient":"bottom","values":[-36,-34,-32,-28,-26,-24,-22,-18,-16,-14,-12,-8,-6,-4,-2,2,4,6,8,12,14,16,18,22,24,26,28,32,34,36],"labels":false,"tickSize":-8,"domain":false,"title":null}},"y":{"field":"m","type":"quantitative","axis":{"orient":"left","values":[1,2,3,4,6,7,8,9,11,12,13,14,16,17,18,19,21,22,23,24,26,27,28,29,31,32,33,34],"labels":false,"tickSize":-8,"domain":false,"title":null}}}},
{"data":{"name":"o"},"mark":{"type":"point","opacity":0},"encoding":{"x":{"field":"l","type":"quantitative","axis":{"orient":"top","values":[-36,-34,-32,-28,-26,-24,-22,-18,-16,-14,-12,-8,-6,-4,-2,2,4,6,8,12,14,16,18,22,24,26,28,32,34,36],"labels":false,"tickSize":-8,"domain":false,"title":null}},"y":{"field":"m","type":"quantitative","axis":{"orient":"right","values":[1,2,3,4,6,7,8,9,11,12,13,14,16,17,18,19,21,22,23,24,26,27,28,29,31,32,33,34],"labels":false,"tickSize":-8,"domain":false,"title":null}}}}
]},
{"width":242,"height":504,"resolve":{"axis":{"y":"independent"}},"layer":[
{"data":{"name":"bar"},"mark":{"type":"rect","width":46,"height":12.3},"encoding":{"x":{"datum":23,"type":"quantitative","scale":{"domain":[0,242],"nice":false},"axis":null},"y":{"field":"v","type":"quantitative","scale":{"domain":[0,0.42176],"nice":false},"axis":{"orient":"right","offset":-196,"values":[0,0.1,0.2,0.3,0.4],"format":"~g","tickColor":"#ccc","tickSize":14,"domain":false,"labelPadding":11,"title":null}},"color":{"field":"v","type":"quantitative","scale":{"domain":[0,0.01,0.02,0.05,0.1,0.15,0.2,0.25,0.3,0.35,0.4],"range":["#2a1ecb","#2e27ce","#3538d6","#5a74e8","#92b6f0","#c0e0e8","#dfe4d0","#e6c9a8","#d29078","#b44d50","#7f1528"]}}}},
{"data":{"name":"box"},"mark":{"type":"rect","width":46,"fill":null,"stroke":"#555","strokeWidth":1},"encoding":{"x":{"datum":23,"type":"quantitative","axis":null},"y":{"field":"a","type":"quantitative","axis":{"orient":"right","offset":-196,"values":[0.02,0.04,0.06,0.08,0.12,0.14,0.16,0.18,0.22,0.24,0.26,0.28,0.32,0.34,0.36,0.38],"labels":false,"tickColor":"#ccc","tickSize":8,"domain":false,"title":null}},"y2":{"field":"b"}}}
]},
{"title":"τ=2500","width":1186,"height":497,"resolve":{"axis":{"x":"independent","y":"independent"}},"layer":[
{"data":{"name":"base"},"mark":"rect","encoding":{"x":{"field":"l","type":"quantitative","scale":{"domain":[-36.48,36.48],"nice":false},"axis":{"orient":"bottom","values":[-30,-20,-10,0,10,20,30],"format":"d","tickSize":-12,"labelPadding":32,"title":"(2π/L) ℓ","titleFontSize":46,"titlePadding":22}},"x2":{"field":"l2"},"y":{"field":"m","type":"quantitative","scale":{"domain":[-0.66,35.73],"nice":false},"axis":{"orient":"left","values":[0,5,10,15,20,25,30,35],"format":"d","tickSize":-12,"labelPadding":23,"title":"(2π/L) m","titleFontSize":52,"titlePadding":25}},"y2":{"field":"m2"},"color":{"field":"v","type":"quantitative","scale":{"domain":[0,0.01,0.02,0.05,0.1,0.15,0.2,0.25,0.3,0.35,0.4],"range":["#2a1ecb","#2e27ce","#3538d6","#5a74e8","#92b6f0","#c0e0e8","#dfe4d0","#e6c9a8","#d29078","#b44d50","#7f1528"]}}}},
{"data":{"name":"p3c"},"mark":{"type":"rect","width":81.6,"height":68.7},"encoding":{"x":{"field":"l","type":"quantitative","axis":null},"y":{"field":"m","type":"quantitative","axis":null},"color":{"field":"v","type":"quantitative"}}},
{"data":{"name":"p3m"},"mark":{"type":"rect","width":41,"height":34.6},"encoding":{"x":{"field":"l","type":"quantitative","axis":null},"y":{"field":"m","type":"quantitative","axis":null},"color":{"field":"v","type":"quantitative"}}},
{"data":{"name":"p3f"},"mark":{"type":"rect","width":20.7,"height":17.5},"encoding":{"x":{"field":"l","type":"quantitative","axis":null},"y":{"field":"m","type":"quantitative","axis":null},"color":{"field":"v","type":"quantitative"}}},
{"data":{"name":"o"},"mark":{"type":"point","opacity":0},"encoding":{"x":{"field":"l","type":"quantitative","axis":{"orient":"top","values":[-30,-20,-10,0,10,20,30],"labels":false,"tickSize":-12,"title":null}},"y":{"field":"m","type":"quantitative","axis":{"orient":"right","values":[0,5,10,15,20,25,30,35],"labels":false,"tickSize":-12,"title":null}}}},
{"data":{"name":"o"},"mark":{"type":"point","opacity":0},"encoding":{"x":{"field":"l","type":"quantitative","axis":{"orient":"bottom","values":[-36,-34,-32,-28,-26,-24,-22,-18,-16,-14,-12,-8,-6,-4,-2,2,4,6,8,12,14,16,18,22,24,26,28,32,34,36],"labels":false,"tickSize":-8,"domain":false,"title":null}},"y":{"field":"m","type":"quantitative","axis":{"orient":"left","values":[1,2,3,4,6,7,8,9,11,12,13,14,16,17,18,19,21,22,23,24,26,27,28,29,31,32,33,34],"labels":false,"tickSize":-8,"domain":false,"title":null}}}},
{"data":{"name":"o"},"mark":{"type":"point","opacity":0},"encoding":{"x":{"field":"l","type":"quantitative","axis":{"orient":"top","values":[-36,-34,-32,-28,-26,-24,-22,-18,-16,-14,-12,-8,-6,-4,-2,2,4,6,8,12,14,16,18,22,24,26,28,32,34,36],"labels":false,"tickSize":-8,"domain":false,"title":null}},"y":{"field":"m","type":"quantitative","axis":{"orient":"right","values":[1,2,3,4,6,7,8,9,11,12,13,14,16,17,18,19,21,22,23,24,26,27,28,29,31,32,33,34],"labels":false,"tickSize":-8,"domain":false,"title":null}}}}
]},
{"width":242,"height":504,"resolve":{"axis":{"y":"independent"}},"layer":[
{"data":{"name":"bar"},"mark":{"type":"rect","width":46,"height":12.3},"encoding":{"x":{"datum":23,"type":"quantitative","scale":{"domain":[0,242],"nice":false},"axis":null},"y":{"field":"v","type":"quantitative","scale":{"domain":[0,0.42176],"nice":false},"axis":{"orient":"right","offset":-196,"values":[0,0.1,0.2,0.3,0.4],"format":"~g","tickColor":"#ccc","tickSize":14,"domain":false,"labelPadding":11,"title":null}},"color":{"field":"v","type":"quantitative","scale":{"domain":[0,0.01,0.02,0.05,0.1,0.15,0.2,0.25,0.3,0.35,0.4],"range":["#2a1ecb","#2e27ce","#3538d6","#5a74e8","#92b6f0","#c0e0e8","#dfe4d0","#e6c9a8","#d29078","#b44d50","#7f1528"]}}}},
{"data":{"name":"box"},"mark":{"type":"rect","width":46,"fill":null,"stroke":"#555","strokeWidth":1},"encoding":{"x":{"datum":23,"type":"quantitative","axis":null},"y":{"field":"a","type":"quantitative","axis":{"orient":"right","offset":-196,"values":[0.02,0.04,0.06,0.08,0.12,0.14,0.16,0.18,0.22,0.24,0.26,0.28,0.32,0.34,0.36,0.38],"labels":false,"tickColor":"#ccc","tickSize":8,"domain":false,"title":null}},"y2":{"field":"b"}}}
]}
]}
